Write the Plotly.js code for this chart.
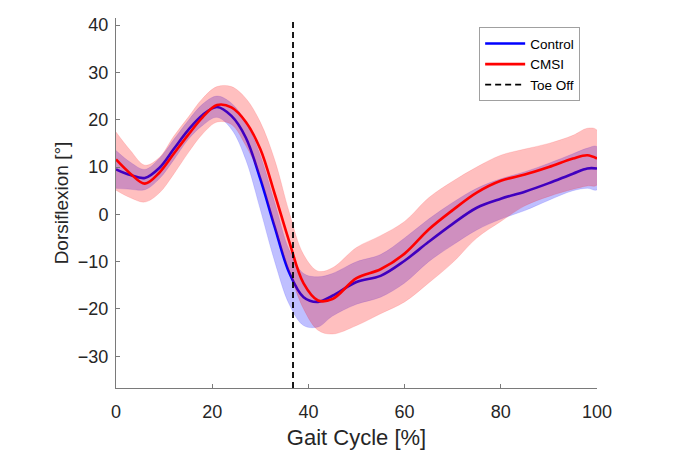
<!DOCTYPE html>
<html>
<head>
<meta charset="utf-8">
<script src="https://cdn.plot.ly/plotly-3.0.1.min.js"></script>
<style>html,body{margin:0;padding:0;background:#fff;}#chart{width:689px;height:459px;}</style>
</head>
<body>
<div id="chart"></div>
<script>
// Gait cycle sample positions [%]
const gaitX = [0, 3, 6, 9, 12, 15, 18, 21, 24, 27, 30, 33, 36, 39, 42, 45, 50, 55, 60, 65, 70, 75, 80, 85, 90, 95, 98, 100];

// Control group
const controlMean  = [9.5, 8.3, 7.7, 9.8, 13.8, 17.8, 21.0, 22.7, 20.8, 16.2, 7.5, -2.7, -12.3, -17.5, -18.5, -17.2, -14.3, -13.0, -9.8, -5.8, -2.0, 1.4, 3.3, 4.8, 6.6, 8.6, 9.7, 9.7];
const controlUpper = [13.5, 11.0, 9.5, 11.8, 15.8, 19.8, 23.3, 25.0, 23.5, 19.5, 12.5, 2.5, -7.5, -12.5, -13.2, -12.5, -10.0, -8.5, -5.0, -1.0, 2.5, 5.5, 7.5, 9.0, 10.8, 12.8, 14.0, 14.3];
const controlLower = [5.5, 5.3, 5.2, 7.5, 11.5, 15.8, 18.8, 20.5, 18.0, 11.5, 1.0, -10.0, -19.0, -23.5, -23.8, -21.5, -19.0, -17.5, -14.5, -10.0, -6.5, -3.3, -1.0, 0.8, 3.0, 5.0, 5.5, 5.2];

// CMSI group
const cmsiMean  = [11.6, 8.6, 6.5, 8.8, 12.8, 16.8, 20.5, 23.1, 22.6, 19.5, 13.8, 4.3, -5.7, -14.6, -18.2, -17.9, -13.5, -11.6, -8.3, -3.2, 0.9, 4.6, 7.1, 8.4, 10.0, 11.8, 12.5, 11.8];
const cmsiUpper = [17.4, 13.5, 10.4, 12.0, 16.5, 20.5, 24.5, 27.0, 27.0, 24.5, 19.5, 11.5, 0.5, -8.5, -12.0, -11.3, -7.0, -4.5, -1.5, 3.5, 7.0, 10.0, 12.5, 13.8, 15.0, 16.7, 18.2, 17.8];
const cmsiLower = [5.1, 3.5, 2.6, 4.5, 8.5, 13.0, 17.0, 19.5, 19.0, 14.5, 8.0, -2.5, -12.0, -20.0, -24.5, -25.3, -23.5, -21.0, -18.5, -14.5, -10.2, -5.0, -1.5, 1.8, 3.8, 5.3, 6.0, 6.2];

// Toe off position [%]
const toeOff = 36.8;

const yRange = [-36.7, 41.5];
const xTicks = [0, 20, 40, 60, 80, 100];
const yTicks = [-30, -20, -10, 0, 10, 20, 30, 40];

function band(upper, lower, color, line) {
  return {
    x: gaitX.concat(gaitX.slice().reverse()),
    y: upper.concat(lower.slice().reverse()),
    type: 'scatter', mode: 'lines', fill: 'toself',
    fillcolor: color, line: {color: line, width: 0.8, shape: 'spline'},
    showlegend: false, hoverinfo: 'skip'
  };
}

const traces = [
  band(controlUpper, controlLower, 'rgba(0,0,255,0.25)', 'rgba(0,0,255,0.15)'),
  {x: gaitX, y: controlMean, type: 'scatter', mode: 'lines', name: 'Control',
   line: {color: 'rgb(0,0,255)', width: 2.6, shape: 'spline'}},
  band(cmsiUpper, cmsiLower, 'rgba(255,0,0,0.25)', 'rgba(255,0,0,0.15)'),
  {x: gaitX, y: cmsiMean, type: 'scatter', mode: 'lines', name: 'CMSI',
   line: {color: 'rgb(255,0,0)', width: 2.6, shape: 'spline'}},
  {x: [toeOff, toeOff], y: yRange, type: 'scatter', mode: 'lines', name: 'Toe Off',
   line: {color: 'black', width: 1.8, dash: '6px,4px'}}
];

const FONT = 'Liberation Sans, Arial, sans-serif';
const axisCommon = {
  showgrid: false, zeroline: false, showline: true, linecolor: '#7a7a7a', linewidth: 1,
  ticks: 'inside', ticklen: 4, tickcolor: '#7a7a7a', mirror: false,
  tickfont: {family: FONT, size: 18, color: '#262626'}
};

const layout = {
  width: 689, height: 459,
  margin: {l: 116, r: 92, t: 18, b: 71},
  paper_bgcolor: '#ffffff', plot_bgcolor: '#ffffff',
  showlegend: true,
  legend: {x: 0.755, y: 0.975, xanchor: 'left', yanchor: 'top',
    bordercolor: '#a0a0a0', borderwidth: 1, bgcolor: '#ffffff',
    font: {family: FONT, size: 13.5, color: '#000'},
    itemwidth: 40, tracegroupgap: 0},
  xaxis: Object.assign({}, axisCommon, {range: [0, 100], tickvals: xTicks,
    ticklabelstandoff: 7,
    title: {text: 'Gait Cycle [%]', standoff: 9,
      font: {family: FONT, size: 22, color: '#262626'}}}),
  yaxis: Object.assign({}, axisCommon, {range: yRange, tickvals: yTicks,
    ticklabelstandoff: 3,
    title: {text: 'Dorsiflexion [°]', standoff: 4,
      font: {family: FONT, size: 19, color: '#262626'}}})
};

Plotly.newPlot('chart', traces, layout, {displayModeBar: false, staticPlot: true});
</script>
</body>
</html>
